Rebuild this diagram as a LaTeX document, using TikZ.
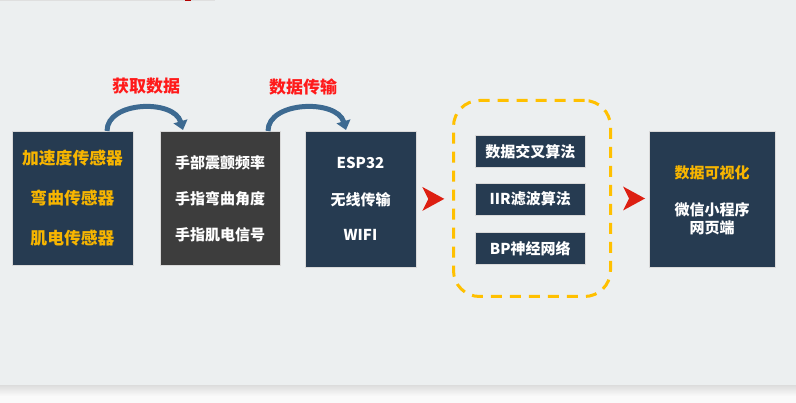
\documentclass[tikz,border=0pt]{standalone}
\usepackage{fontspec}
\setmainfont{Noto Sans CJK SC}
\usetikzlibrary{arrows.meta,calc,positioning}
\definecolor{bg}{HTML}{ECEFF0}
\definecolor{navy}{HTML}{263B51}
\definecolor{darkgray}{HTML}{3D3D3D}
\definecolor{gold}{HTML}{F7B500}
\definecolor{arcblue}{HTML}{3D6A91}
\definecolor{redtxt}{HTML}{FF1A1A}
\definecolor{redarrow}{HTML}{DD1F12}
\definecolor{dashy}{HTML}{FFC000}
\tikzset{
  bigbox/.style={draw=white!70!gray, line width=0.6pt, minimum width=#1, anchor=north west, inner sep=0pt, minimum height=134},
  algbox/.style={fill=navy, draw=white!70!gray, line width=0.6pt, minimum width=110, minimum height=32, anchor=north west, text=white, font=\fontsize{15}{17}\selectfont\bfseries},
  ytxt/.style={text=gold, font=\fontsize{16.8}{19}\selectfont\bfseries},
  wtxt/.style={text=white, font=\fontsize{15}{17}\selectfont\bfseries},
  redlbl/.style={text=redtxt, font=\fontsize{17}{19}\selectfont\bfseries},
  arcarrow/.style={arcblue, line width=5, -{Triangle[width=14,length=9]}},
  chevron/.style={fill=redarrow, draw=none}
}
\begin{document}
\begin{tikzpicture}[x=1pt,y=-1pt]
\fill[bg] (0,0) rectangle (796,403);
\useasboundingbox (0,0) rectangle (796,403);
% top strip
\fill[gray!25] (0,0) rectangle (215,1.2);
\fill[red!70!black] (185,0) rectangle (191,1.5);
% bottom band
\fill[gray!30] (0,385) rectangle (796,386);
\shade[top color=gray!25, bottom color=white!96!gray] (0,386) rectangle (796,396);
\fill[white!96!gray] (0,396) rectangle (796,403);

% boxes
\node[bigbox=121, fill=navy] (b1) at (12,131) {};
\node[bigbox=120, fill=darkgray] (b2) at (160,131) {};
\node[bigbox=111, fill=navy, minimum height=136] (b3) at (305,131) {};
\node[bigbox=126, fill=navy, minimum height=136] (b5) at (649,131) {};

\node[ytxt] (t11) at (72.5,158) {加速度传感器};
\node[ytxt] (t12) at (72.5,198) {弯曲传感器};
\node[ytxt] (t13) at (72.5,238) {肌电传感器};

\node[wtxt] (t21) at (220,163) {手部震颤频率};
\node[wtxt] (t22) at (220,199) {手指弯曲角度};
\node[wtxt] (t23) at (220,235) {手指肌电信号};

\node[wtxt] (t31) at (360.5,163) {ESP32};
\node[wtxt] (t32) at (360.5,200) {无线传输};
\node[wtxt] (t33) at (360.5,235) {WIFI};

\node[text=gold, font=\fontsize{15}{17}\selectfont\bfseries] (t51) at (712,173) {数据可视化};
\node[wtxt] (t52) at (712,210) {微信小程序};
\node[wtxt] (t53) at (712,228) {网页端};

% algorithm group
\node[draw=dashy, line width=3, dash pattern=on 11pt off 8pt, rounded corners=26, minimum width=157, minimum height=196, anchor=north west] (grp) at (452,99) {};
\node[algbox] (a1) at (475,135) {数据交叉算法};
\node[algbox] (a2) at (475,183) {IIR滤波算法};
\node[algbox] (a3) at (475,232) {BP神经网络};

% red chevrons
\coordinate (c1) at ($(b3.east)!0.5!(grp.west)$);
\fill[chevron] ($(c1)+(-12,-12)$) -- ($(c1)+(10,0)$) -- ($(c1)+(-12,12)$) -- ($(c1)+(-6,0)$) -- cycle;
\fill[chevron] ($(grp.east)+(11,-12)$) -- ($(grp.east)+(33,0)$) -- ($(grp.east)+(11,12)$) -- ($(grp.east)+(17,0)$) -- cycle;

% curved arrows
\draw[arcarrow] ($(b1.north west)+(95,0)$) .. controls ($(b1.north west)+(95,-30)$) and ($(b2.north west)+(14,-32)$) .. ($(b2.north west)+(23,-1)$);
\draw[arcarrow] ($(b2.north west)+(108,0)$) .. controls ($(b2.north west)+(108,-30)$) and ($(b3.north west)+(32,-32)$) .. ($(b3.north west)+(41,-1)$);

\node[redlbl] (l1) at (146,86) {获取数据};
\node[redlbl] (l2) at (303,87) {数据传输};
\end{tikzpicture}
\end{document}
